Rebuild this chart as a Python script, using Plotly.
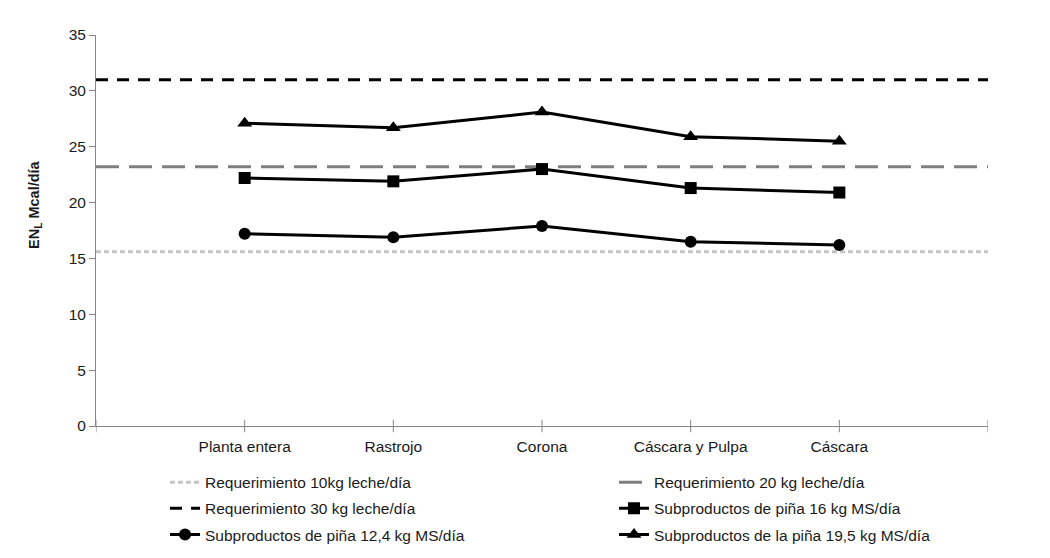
import plotly.graph_objects as go

categories = ["Planta entera", "Rastrojo", "Corona", "Cáscara y Pulpa", "Cáscara"]
sub_124 = [17.2, 16.9, 17.9, 16.5, 16.2]
sub_16 = [22.2, 21.9, 23.0, 21.3, 20.9]
sub_195 = [27.1, 26.7, 28.1, 25.9, 25.5]
req_10 = 15.6
req_20 = 23.2
req_30 = 31.0
y_ticks = [0, 5, 10, 15, 20, 25, 30, 35]

xs = list(range(len(categories)))
edge = [-1, len(categories)]

fig = go.Figure()
fig.add_trace(go.Scatter(x=edge, y=[req_10, req_10], mode="lines",
                         name="Requerimiento 10kg leche/día", legend="legend", legendgroup="a",
                         line=dict(color="#c4c4c4", width=3, dash="5px,3px")))
fig.add_trace(go.Scatter(x=edge, y=[req_20, req_20], mode="lines",
                         name="Requerimiento 20 kg leche/día", legend="legend2", legendgroup="b",
                         line=dict(color="#7f7f7f", width=3, dash="23px,10px")))
fig.add_trace(go.Scatter(x=edge, y=[req_30, req_30], mode="lines",
                         name="Requerimiento 30 kg leche/día", legend="legend", legendgroup="c",
                         line=dict(color="#000000", width=3, dash="12px,9px")))
fig.add_trace(go.Scatter(x=xs, y=sub_16, mode="lines+markers",
                         name="Subproductos de piña 16 kg MS/día", legend="legend2", legendgroup="d",
                         line=dict(color="#000000", width=3),
                         marker=dict(symbol="square", size=12, color="#000000")))
fig.add_trace(go.Scatter(x=xs, y=sub_124, mode="lines+markers",
                         name="Subproductos de piña 12,4 kg MS/día", legend="legend", legendgroup="e",
                         line=dict(color="#000000", width=3),
                         marker=dict(symbol="circle", size=12, color="#000000")))
fig.add_trace(go.Scatter(x=xs, y=sub_195, mode="lines+markers",
                         name="Subproductos de la piña 19,5 kg MS/día", legend="legend2", legendgroup="f",
                         line=dict(color="#000000", width=3),
                         marker=dict(symbol="triangle-up", size=13, color="#000000")))

legend_common = dict(orientation="v", xref="container", yref="container",
                     xanchor="left", yanchor="top", y=0.168,
                     font=dict(size=15.5, color="#1a1a1a"), tracegroupgap=3,
                     bgcolor="rgba(0,0,0,0)")

fig.update_layout(
    width=1042, height=550,
    margin=dict(l=88, r=62, t=27, b=132, autoexpand=False),
    paper_bgcolor="white", plot_bgcolor="white",
    font=dict(family="Liberation Sans, Arial, sans-serif", size=15.5, color="#1a1a1a"),
    showlegend=True,
    legend=dict(x=0.1507, **legend_common),
    legend2=dict(x=0.5816, **legend_common),
    xaxis=dict(range=[-1, len(categories)], tickmode="array",
               tickvals=xs, ticktext=categories,
               showgrid=False, zeroline=False, showline=True,
               linecolor="#858585", linewidth=1,
               ticks="", ticklabelstandoff=6),
    yaxis=dict(range=[0, 35], tickmode="array", tickvals=y_ticks,
               showgrid=False, zeroline=False, showline=True,
               linecolor="#858585", linewidth=1,
               ticks="outside", ticklen=6, tickcolor="#858585"),
    annotations=[dict(text="<b>EN<sub>L</sub> Mcal/día</b>", xref="paper", yref="paper",
                      x=-0.0684, y=0.568, xanchor="center", yanchor="middle",
                      textangle=-90, showarrow=False,
                      font=dict(size=14.5, color="#1a1a1a"))],
)

# x-axis tick marks at category centers and edges (crossing the axis line)
tick_positions = [-1] + xs + [len(categories)]
for t in tick_positions:
    fig.add_shape(type="line", xref="x", yref="paper", x0=t, x1=t, y0=-0.016, y1=0.016,
                  line=dict(color="#858585", width=1))

fig.write_html("out.html")
